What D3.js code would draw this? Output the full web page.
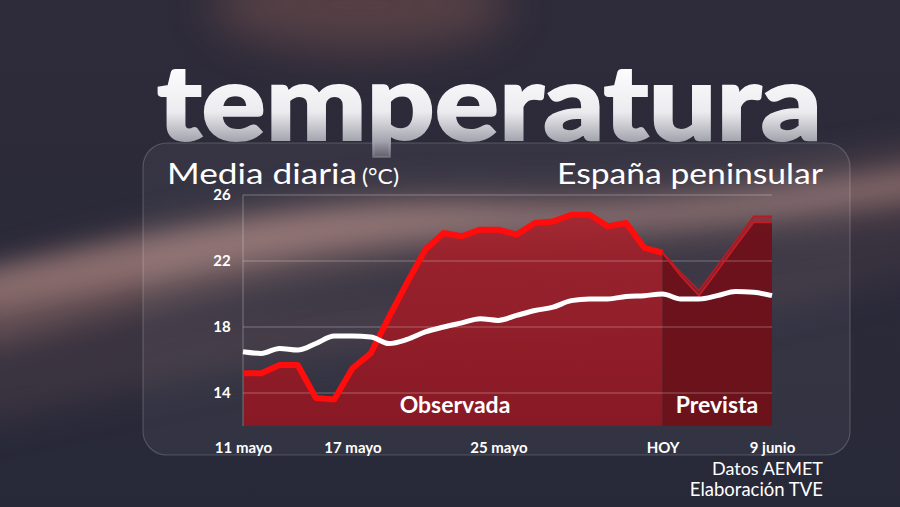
<!DOCTYPE html>
<html>
<head>
<meta charset="utf-8">
<script src="https://cdn.jsdelivr.net/npm/d3@7"></script>
<style>
  html, body { margin: 0; padding: 0; background: #2a2938; }
  svg { display: block; }
  .axis text { font-family: Lato, "Open Sans", sans-serif; font-weight: 700; fill: #fff; }
</style>
</head>
<body>
<svg id="chart"></svg>
<script>
// day index 0 = 11 mayo, 23 = HOY (3 junio), 29 = 9 junio
const tickDays = [0, 6, 14, 23, 29];
const tickLabels = ["11 mayo", "17 mayo", "25 mayo", "HOY", "9 junio"];
const yTicks = [14, 18, 22, 26];

// media diaria observada (rojo), días 0..23
const observed = [15.2, 15.2, 15.7, 15.7, 13.7, 13.6, 15.5, 16.4, 18.6, 20.7, 22.7, 23.7, 23.5, 23.9,
  23.9, 23.6, 24.3, 24.4, 24.8, 24.8, 24.1, 24.3, 22.8, 22.5];
// prevista, días 23..29 (dos pasadas)
const forecastDays = [23, 24, 25, 26, 27, 28, 29];
const forecastHigh = [22.5, 21.3, 20.2, 21.7, 23.2, 24.7, 24.7];
const forecastLow = [22.5, 21.1, 19.9, 21.4, 22.9, 24.35, 24.35];
// valor normal (línea blanca), días 0..29
const normal = [16.5, 16.4, 16.7, 16.6, 17.0, 17.45, 17.45, 17.4, 17.0, 17.25, 17.7, 18.0, 18.25, 18.5, 18.4,
  18.7, 19.0, 19.2, 19.6, 19.7, 19.7, 19.85, 19.9, 20.0, 19.7, 19.7, 19.9, 20.15, 20.1, 19.9];

const W = 900, H = 507;
const svg = d3.select("#chart").attr("width", W).attr("height", H);
const defs = svg.append("defs");

// background
const bg = defs.append("linearGradient").attr("id", "bg").attr("x1", 0).attr("y1", 0).attr("x2", 0).attr("y2", 1);
bg.append("stop").attr("offset", "0%").attr("stop-color", "#2e2b3a");
bg.append("stop").attr("offset", "100%").attr("stop-color", "#282938");
svg.append("rect").attr("width", W).attr("height", H).attr("fill", "url(#bg)");

defs.append("filter").attr("id", "blur").attr("x", "-50%").attr("y", "-50%").attr("width", "200%").attr("height", "200%")
  .append("feGaussianBlur").attr("stdDeviation", 22);
defs.append("filter").attr("id", "blur2").attr("x", "-50%").attr("y", "-50%").attr("width", "200%").attr("height", "200%")
  .append("feGaussianBlur").attr("stdDeviation", 12);

const glow = svg.append("g");
glow.append("ellipse").attr("cx", 360).attr("cy", 5).attr("rx", 150).attr("ry", 45)
  .attr("fill", "#6a4c4c").attr("opacity", 0.65).attr("filter", "url(#blur)");
glow.append("path")
  .attr("d", "M-40,290 C150,240 300,195 500,200 C650,205 780,185 940,155 L940,205 C780,230 650,240 500,245 C300,255 150,310 -40,355 Z")
  .attr("fill", "#806262").attr("opacity", 0.8).attr("filter", "url(#blur)");
glow.append("path")
  .attr("d", "M-40,275 C150,235 300,200 500,208 C650,213 780,192 940,172 L940,190 C780,210 650,226 500,230 C300,236 150,282 -40,312 Z")
  .attr("fill", "#b08a86").attr("opacity", 0.55).attr("filter", "url(#blur2)");
glow.append("path")
  .attr("d", "M-40,380 C150,330 300,300 500,300 C700,300 800,260 940,230 L940,260 C800,290 700,330 500,335 C300,340 150,380 -40,420 Z")
  .attr("fill", "#5c4650").attr("opacity", 0.5).attr("filter", "url(#blur)");

// panel
svg.append("rect").attr("x", 143).attr("y", 143).attr("width", 707).attr("height", 312).attr("rx", 24)
  .attr("fill", "rgba(255,255,255,0.05)").attr("stroke", "rgba(255,255,255,0.18)").attr("stroke-width", 1.2);

// title
const tg = defs.append("linearGradient").attr("id", "titleGrad").attr("gradientUnits", "userSpaceOnUse")
  .attr("x1", 0).attr("y1", 62).attr("x2", 0).attr("y2", 172);
tg.append("stop").attr("offset", "0%").attr("stop-color", "#ffffff");
tg.append("stop").attr("offset", "45%").attr("stop-color", "#ececf0");
tg.append("stop").attr("offset", "72%").attr("stop-color", "#a4a4ae");
tg.append("stop").attr("offset", "100%").attr("stop-color", "#6d6c78").attr("stop-opacity", 0.1);
svg.append("text").attr("x", 157).attr("y", 140)
  .attr("textLength", 665).attr("lengthAdjust", "spacingAndGlyphs")
  .style("font-family", "Lato, 'Open Sans', sans-serif").style("font-weight", 900).style("font-size", "104px")
  .attr("fill", "url(#titleGrad)").attr("stroke", "url(#titleGrad)").attr("stroke-width", 2)
  .text("temperatura");

// subtitles
const sub = svg.append("g").style("font-family", "Lato, 'Open Sans', sans-serif").attr("fill", "#fff");
sub.append("text").attr("x", 167).attr("y", 184).style("font-size", "29px")
  .attr("textLength", 190).attr("lengthAdjust", "spacingAndGlyphs").text("Media diaria");
sub.append("text").attr("x", 362).attr("y", 184).style("font-size", "21px")
  .attr("textLength", 37).attr("lengthAdjust", "spacingAndGlyphs").text("(°C)");
sub.append("text").attr("x", 557).attr("y", 184).style("font-size", "29px")
  .attr("textLength", 266).attr("lengthAdjust", "spacingAndGlyphs").text("España peninsular");

// scales
const x = d3.scaleLinear().domain([0, 29]).range([243, 772]);
const y = d3.scaleLinear().domain([12, 26]).range([426, 195]);

// fills
const fg = defs.append("linearGradient").attr("id", "fillGrad").attr("gradientUnits", "userSpaceOnUse")
  .attr("x1", 0).attr("y1", 200).attr("x2", 0).attr("y2", 426);
fg.append("stop").attr("offset", "0%").attr("stop-color", "#a8222c").attr("stop-opacity", 0.88);
fg.append("stop").attr("offset", "100%").attr("stop-color", "#8a1824").attr("stop-opacity", 0.97);

const area = d3.area().x((d, i) => x(i)).y0(y(12)).y1(d => y(d));
svg.append("path").datum(observed).attr("d", area).attr("fill", "url(#fillGrad)");

const fArea = d3.area().x(d => x(d.day)).y0(y(12)).y1(d => y(d.low));
const fData = forecastDays.map((d, i) => ({day: d, low: forecastLow[i], high: forecastHigh[i]}));
svg.append("path").datum(fData).attr("d", fArea).attr("fill", "#6e111a").attr("opacity", 0.96);
const band = d3.area().x(d => x(d.day)).y0(d => y(d.low)).y1(d => y(d.high));
svg.append("path").datum(fData).attr("d", band).attr("fill", "#a01722").attr("opacity", 0.5);

// grid
svg.append("g").selectAll("line").data(yTicks).join("line")
  .attr("x1", x(0)).attr("x2", x(29)).attr("y1", d => y(d)).attr("y2", d => y(d))
  .attr("stroke", "rgba(255,255,255,0.3)").attr("stroke-width", 1.2);
svg.append("line").attr("x1", x(0)).attr("x2", x(0)).attr("y1", y(26)).attr("y2", y(12))
  .attr("stroke", "rgba(255,255,255,0.3)").attr("stroke-width", 1);

// forecast lines
const fLine = key => d3.line().x(d => x(d.day)).y(d => y(d[key]));
svg.append("path").datum(fData).attr("d", fLine("high")).attr("fill", "none")
  .attr("stroke", "#b81a24").attr("stroke-width", 1.8);
svg.append("path").datum(fData).attr("d", fLine("low")).attr("fill", "none")
  .attr("stroke", "#c81a24").attr("stroke-width", 1.8);

// observed line
svg.append("path").datum(observed)
  .attr("d", d3.line().x((d, i) => x(i)).y(d => y(d)))
  .attr("fill", "none").attr("stroke", "#ff0c0c").attr("stroke-width", 6).attr("stroke-linejoin", "round");

// normal line
svg.append("path").datum(normal)
  .attr("d", d3.line().x((d, i) => x(i)).y(d => y(d)).curve(d3.curveMonotoneX))
  .attr("fill", "none").attr("stroke", "#fff").attr("stroke-width", 5);

// axes
const xAxis = d3.axisBottom(x).tickValues(tickDays).tickFormat((d, i) => tickLabels[i]).tickSize(0);
svg.append("g").attr("class", "axis").attr("transform", "translate(0,439)").call(xAxis)
  .call(g => g.select(".domain").remove())
  .selectAll("text").style("font-size", "15px");

const yAxis = d3.axisLeft(y).tickValues(yTicks).tickSize(0);
svg.append("g").attr("class", "axis").attr("transform", "translate(222,0)").call(yAxis)
  .call(g => g.select(".domain").remove())
  .selectAll("text").attr("text-anchor", "middle").attr("x", 0).style("font-size", "15px");

// labels
const lab = svg.append("g").style("font-family", "Lato, 'Open Sans', sans-serif").style("font-weight", 700)
  .attr("fill", "#fff").attr("text-anchor", "middle").style("font-size", "23px");
lab.append("text").attr("x", 455).attr("y", 413).text("Observada");
lab.append("text").attr("x", 717).attr("y", 413).text("Prevista");

const src = svg.append("g").style("font-family", "Lato, 'Open Sans', sans-serif")
  .attr("fill", "#fff").attr("text-anchor", "end").style("font-size", "18px");
src.append("text").attr("x", 823).attr("y", 475).text("Datos AEMET");
src.append("text").attr("x", 823).attr("y", 496).style("font-size", "18.5px").text("Elaboración TVE");
</script>
</body>
</html>
